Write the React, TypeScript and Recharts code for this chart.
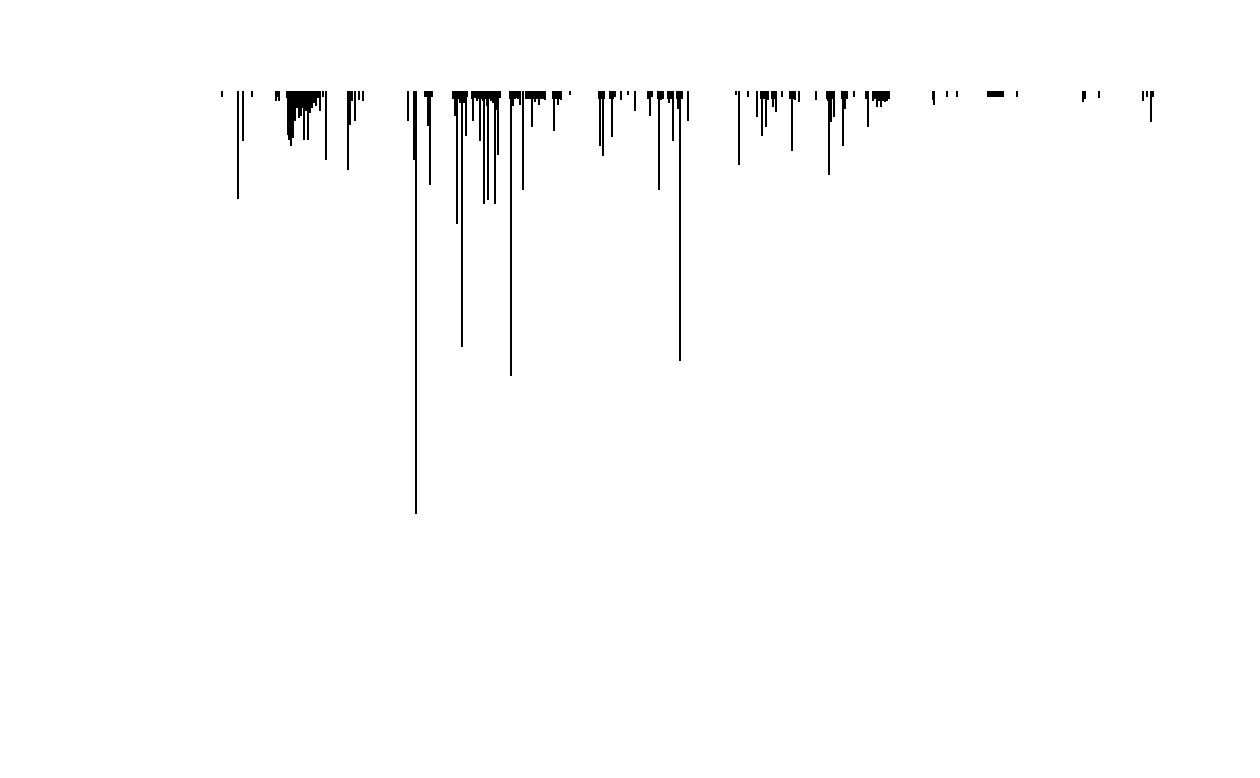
import React from "react";
import { BarChart, Bar, XAxis, YAxis } from "recharts";

// time index of each event (day number)
const days: number[] = [
  2, 18, 23, 32, 56, 57, 59,
  67, 68, 69, 70, 71, 72, 73, 74, 75, 76, 77, 78, 79, 80, 81, 82, 83, 84, 85, 86, 87, 88, 89, 90, 91, 92, 93, 94, 95, 96, 97, 98, 99,
  100, 103, 106, 128, 129, 130, 132, 135, 139, 143,
  188, 194, 196, 205, 206, 208, 209, 210, 212,
  233, 235, 236, 237, 239, 240, 242, 243, 244, 246, 247,
  252, 253, 255, 257, 258, 260, 262, 263, 264, 266, 267, 268, 270, 271, 272, 273, 275, 277, 278, 280,
  290, 291, 293, 295, 297, 298, 300, 303,
  306, 308, 310, 312, 313, 315, 317, 319, 321, 323, 325,
  333, 334, 336, 338, 340, 341, 350,
  379, 380, 382, 383, 384, 390, 392, 393, 395, 401, 408, 415,
  428, 430, 432, 438, 439, 441, 443, 448, 449, 451, 453, 457, 458, 460, 462, 468,
  516, 519, 528, 537, 541, 542, 544, 546, 548, 552, 553, 555, 556, 562,
  570, 572, 574, 575, 579, 596,
  607, 608, 609, 611, 612, 614, 622, 623, 625, 627, 634,
  646, 648, 653, 655, 657, 659, 661, 663, 665, 667, 669,
  713, 714, 727, 737,
  768, 769, 771, 773, 775, 777, 779, 781, 783, 797,
  863, 865, 879, 923, 927, 931, 933,
];

// depth of each bar below the top baseline (drawn downward)
const depths: number[] = [
  6, 108, 50, 6, 10, 6, 10,
  7, 44, 49, 8, 55, 8, 47, 8, 30, 10, 17, 8, 27, 8, 25, 17, 8, 49, 8, 20, 8, 49, 8, 22, 8, 17, 8, 12, 8, 15, 7, 7, 7,
  20, 6, 69, 79, 8, 34, 10, 30, 9, 10,
  30, 69, 423, 6, 6, 35, 30, 94, 6,
  8, 25, 8, 133, 8, 12, 256, 8, 12, 45, 6,
  8, 30, 7, 10, 8, 50, 8, 10, 113, 8, 15, 109, 8, 10, 8, 12, 113, 19, 64, 7,
  8, 285, 15, 8, 7, 8, 14, 99,
  8, 8, 8, 36, 8, 11, 8, 14, 8, 8, 9,
  8, 40, 8, 14, 8, 9, 4,
  8, 55, 8, 65, 8, 8, 46, 8, 6, 9, 4, 20,
  8, 25, 6, 8, 99, 9, 8, 8, 12, 8, 50, 8, 18, 270, 8, 30,
  4, 74, 6, 26, 8, 45, 8, 36, 9, 8, 16, 8, 21, 6,
  8, 60, 8, 9, 11, 9,
  8, 10, 84, 31, 8, 26, 8, 55, 18, 8, 6,
  8, 36, 10, 8, 16, 10, 16, 10, 11, 10, 8,
  9, 14, 6, 6,
  6, 6, 6, 6, 6, 6, 6, 6, 6, 6,
  11, 8, 7, 10, 6, 31, 6,
];

const data = days.map((t, i) => ({ t, v: -depths[i] }));

const Spike = (props: any) => {
  const { x, y, width, height } = props;
  if (x == null || y == null) return null;
  const cx = x + (width || 0) / 2;
  const top = Math.min(y, y + height);
  const h = Math.abs(height);
  return (
    <rect
      x={Math.round(cx - 1)}
      y={top}
      width={2}
      height={h}
      fill="#000"
      shapeRendering="crispEdges"
    />
  );
};

export default function App() {
  return (
    <div style={{ width: 1244, height: 762, background: "#fff" }}>
      <BarChart
        width={1244}
        height={762}
        data={data}
        margin={{ top: 83, right: 97, bottom: 79, left: 212 }}
        barCategoryGap={0}
        barGap={0}
      >
        <XAxis type="number" dataKey="t" domain={[0, 935]} hide allowDataOverflow />
        <YAxis type="number" domain={[-600, 0]} hide allowDataOverflow />
        <Bar dataKey="v" fill="#000" barSize={2} shape={<Spike />} isAnimationActive={false} />
      </BarChart>
    </div>
  );
}
